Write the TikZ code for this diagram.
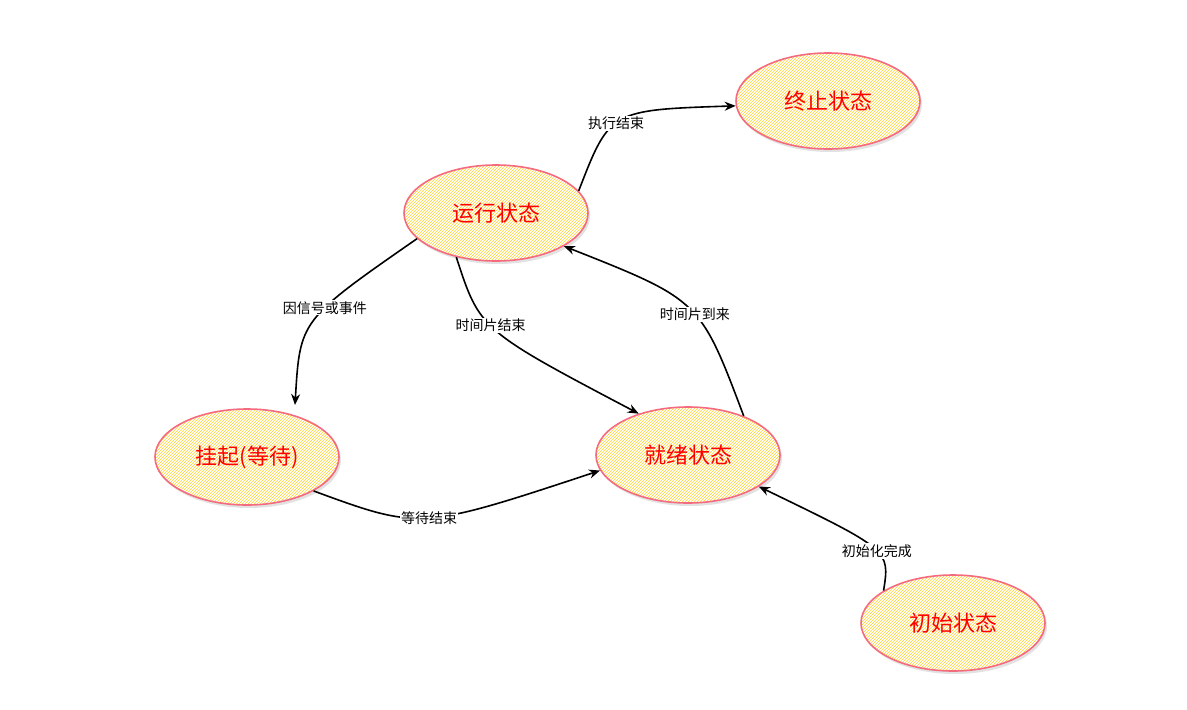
\documentclass[tikz,border=0pt]{standalone}
\usepackage{fontspec}
\setmainfont{Noto Sans CJK SC}
\usetikzlibrary{patterns,shadows,arrows.meta,shapes.geometric}
\begin{document}
\begin{tikzpicture}[x=1pt,y=-1pt,
  st/.style={ellipse,draw=magenta!40!red!60!white,line width=1.6pt,minimum width=184pt,minimum height=96pt,
    preaction={fill=white,drop shadow={shadow xshift=2pt,shadow yshift=-3pt,fill=gray!45}},
    pattern=north east lines,pattern color=orange!45!yellow!80!white,
    text=red,font=\fontsize{22}{26}\selectfont},
  ed/.style={-{Stealth[length=11pt,width=9pt]},line width=1.6pt},
  lb/.style={fill=white,inner sep=1pt,font=\fontsize{14}{16}\selectfont}]
\useasboundingbox (0,0) rectangle (1187,710);
\node[st] (end) at (828,101) {终止状态};
\node[st] (run) at (496,213) {运行状态};
\node[st] (wait) at (247,457) {挂起(等待)};
\node[st] (ready) at (688,455) {就绪状态};
\node[st] (init) at (953,623) {初始状态};
\draw[ed] (run.15) .. controls (610,110) .. (end.183) node[lb,pos=0.45] {执行结束};
\draw[ed] (run.198) .. controls (300,320) .. (295,405) node[lb,pos=0.4] {因信号或事件};
\draw[ed] (run.228) .. controls (480,330) .. (ready.140) node[lb,pos=0.45] {时间片结束};
\draw[ed] (ready.35) .. controls (700,300) .. (run.334) node[lb,pos=0.45] {时间片到来};
\draw[ed] (wait.333) .. controls (420,530) .. (ready.190) node[lb,pos=0.5] {等待结束};
\draw[ed] (init.155) .. controls (890,550) .. (ready.336) node[lb,pos=0.45] {初始化完成};
\end{tikzpicture}
\end{document}
